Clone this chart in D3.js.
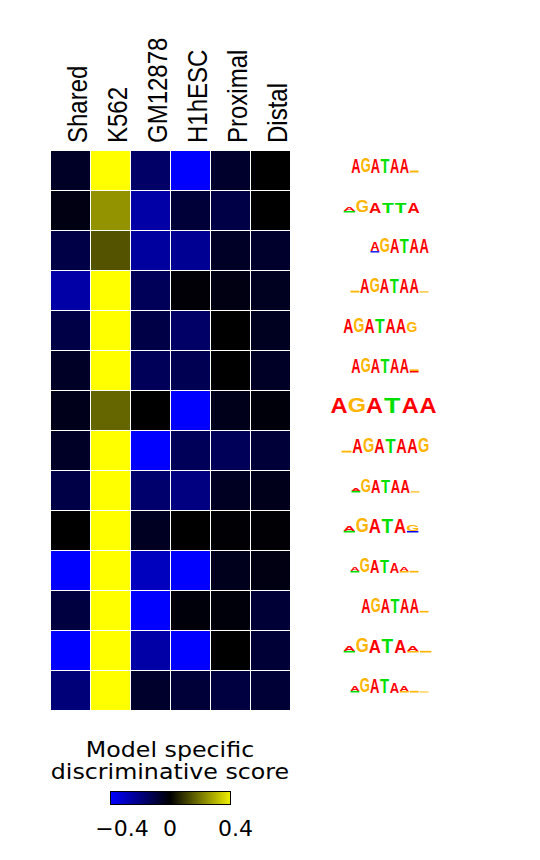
<!DOCTYPE html>
<html>
<head>
<meta charset="utf-8">
<script src="https://cdn.jsdelivr.net/npm/d3@7"></script>
<style>
  html, body { margin: 0; padding: 0; background: #fff; }
  svg { display: block; }
</style>
</head>
<body>
<svg id="chart" width="540" height="860"></svg>
<script>
// ---------------- DATA ----------------
const models = ["Shared", "K562", "GM12878", "H1hESC", "Proximal", "Distal"];
const motifs = ["m1","m2","m3","m4","m5","m6","m7","m8","m9","m10","m11","m12","m13","m14"];
// discriminative score per motif (row) for each model (column)
const scores = [
  [-0.06,  0.45, -0.16, -0.40, -0.07,  0.00],
  [-0.03,  0.23, -0.26, -0.09, -0.11,  0.00],
  [-0.11,  0.13, -0.25, -0.23, -0.06, -0.07],
  [-0.26,  0.45, -0.14, -0.01, -0.03, -0.05],
  [-0.11,  0.45, -0.11, -0.16,  0.00, -0.05],
  [-0.06,  0.45, -0.14, -0.13,  0.00, -0.06],
  [-0.04,  0.16,  0.00, -0.40, -0.04, -0.015],
  [-0.06,  0.45, -0.40, -0.14, -0.14, -0.09],
  [-0.11,  0.45, -0.17, -0.20, -0.055,-0.04],
  [ 0.00,  0.45, -0.055, 0.00, -0.008,-0.008],
  [-0.40,  0.45, -0.30, -0.40, -0.045,-0.03],
  [-0.10,  0.45, -0.40, -0.015,-0.015,-0.085],
  [-0.40,  0.45, -0.26, -0.40,  0.00, -0.085],
  [-0.19,  0.45, -0.07, -0.09, -0.10, -0.085]
];
// sequence logos: positions separated by spaces, stacked letters (bottom→top) by commas, "letter:bits"
const logoSeqs = [
  "A:1.87 G:1.87 A:1.87 T:1.87 A:1.87 A:1.87 G:0.26",
  "T:0.2,A:0.53 G:1.64 A:1.33 T:1.33 T:1.33 A:1.33",
  "C:0.18,A:1.2 G:1.87 A:1.87 T:1.87 A:1.87 A:1.87",
  "G:0.24 A:1.87 G:1.87 A:1.87 T:1.87 A:1.87 A:1.87 G:0.16",
  "A:1.87 G:1.87 A:1.87 T:1.87 A:1.87 A:1.87 G:1.33",
  "A:1.87 G:1.87 A:1.87 T:1.87 A:1.87 A:1.87 A:0.2,G:0.22",
  "A:2 G:2 A:2 T:2 A:2 A:2",
  "G:0.24 A:1.87 G:1.87 A:1.87 T:1.87 A:1.87 A:1.87 G:1.87",
  "T:0.26,A:0.4 G:1.73 A:1.67 T:1.67 A:1.67 A:1.67 G:0.16",
  "T:0.24,A:0.67 G:1.87 A:1.87 T:1.87 A:1.87 C:0.22,G:0.8",
  "T:0.22,A:0.57 G:1.87 A:1.67 T:1.67 A:1.4 G:0.2,A:0.57 G:0.22",
  "A:1.93 G:1.93 A:1.93 T:1.93 A:1.93 A:1.93 G:0.22",
  "T:0.22,A:0.67 G:2 A:1.73 T:1.8 A:1.73 G:0.2,A:0.67 G:0.22",
  "T:0.22,A:0.67 G:2 A:1.87 T:1.87 A:1.33 G:0.2,A:0.67 G:0.22 G:0.14"
];
const legendTitle = ["Model specific", "discriminative score"];
const legendTicks = [-0.4, 0, 0.4];

// ---------------- LAYOUT ----------------
const logoX0 = [351,343,370,350,343,351,330,341,351,343,350,361,343,350];
const logoX1 = [419,420,429,429,417,419,437,429,420,419,419,429,432,429];
const letterColor = { A: "#ff0000", G: "#ffb400", T: "#00e000", C: "#0000ee" };
const logoFont = "bold 100px 'Liberation Sans', Arial, sans-serif";

const svg = d3.select("#chart");

const x = d3.scaleBand().domain(models).range([51, 291]);
const y = d3.scaleBand().domain(motifs).range([151, 711]);
const color = d3.scaleLinear().domain([-0.4, 0, 0.4])
  .range(["#0000ff", "#000000", "#ffff00"]).clamp(true);

// cells
const cells = [];
scores.forEach((row, i) => row.forEach((v, j) => cells.push({ r: motifs[i], c: models[j], v })));
svg.append("g").selectAll("rect").data(cells).join("rect")
  .attr("x", d => x(d.c))
  .attr("y", d => y(d.r))
  .attr("width", x.bandwidth() - 1)
  .attr("height", y.bandwidth() - 1)
  .attr("fill", d => color(d.v));

// column labels
svg.append("g").selectAll("text").data(models).join("text")
  .attr("transform", d => `translate(${x(d) + x.bandwidth() / 2 + 16},143) scale(1.16,1) rotate(-90)`)
  .attr("font-family", "'Liberation Sans', Arial, sans-serif")
  .attr("font-size", 24)
  .attr("fill", "#000")
  .text(d => d);

// glyph metrics (tight ink boxes) via canvas
const ctx = document.createElement("canvas").getContext("2d");
ctx.font = logoFont;
const glyph = {};
["A", "C", "G", "T"].forEach(l => {
  const m = ctx.measureText(l);
  glyph[l] = {
    left: m.actualBoundingBoxLeft, right: m.actualBoundingBoxRight,
    asc: m.actualBoundingBoxAscent, desc: m.actualBoundingBoxDescent
  };
});

// sequence logos
const bitsY = d3.scaleLinear().domain([0, 2]).range([0, 15]);
const logoG = svg.append("g");
logoSeqs.forEach((seq, i) => {
  const positions = seq.split(" ").map(p => p.split(",").map(s => {
    const [l, b] = s.split(":"); return { l, b: +b };
  }));
  const px = d3.scaleLinear().domain([0, positions.length]).range([logoX0[i], logoX1[i]]);
  const base = y(motifs[i]) + y.bandwidth() / 2 + 1.5;
  positions.forEach((stack, k) => {
    let yb = base;
    const step = px(k + 1) - px(k);
    const w = step * 0.9;
    const xl = px(k) + (step - w) / 2;
    stack.forEach(({ l, b }) => {
      const h = bitsY(b);
      if (h < 2.6) {
        // a letter squashed to a sliver is drawn as a flat bar in its colour
        logoG.append("rect")
          .attr("x", xl).attr("y", yb - h)
          .attr("width", w).attr("height", h)
          .attr("fill", letterColor[l])
          .attr("fill-opacity", Math.min(1, 0.35 + h / 2));
      } else {
        const g = glyph[l];
        const gw = g.left + g.right, gh = g.asc + g.desc;
        const sx = w / gw, sy = h / gh;
        logoG.append("text")
          .attr("font-family", "'Liberation Sans', Arial, sans-serif")
          .attr("font-weight", "bold")
          .attr("font-size", 100)
          .attr("fill", letterColor[l])
          .attr("transform", `translate(${xl + g.left * sx},${yb - g.desc * sy}) scale(${sx},${sy})`)
          .text(l);
      }
      yb -= h;
    });
  });
});

// legend
const lg = svg.append("g");
lg.selectAll("text.title").data(legendTitle).join("text")
  .attr("class", "title")
  .attr("transform", (d, i) => `translate(170,${757 + i * 22}) scale(1.13,1)`)
  .attr("text-anchor", "middle")
  .attr("font-family", "'DejaVu Sans', Verdana, sans-serif")
  .attr("font-size", 21)
  .attr("fill", "#000")
  .text(d => d);

const lx = d3.scaleLinear().domain([-0.5, 0.5]).range([110, 230]);
const grad = svg.append("defs").append("linearGradient").attr("id", "cbar")
  .attr("x1", "0%").attr("x2", "100%").attr("y1", "0%").attr("y2", "0%");
const gradColor = d3.scaleLinear().domain([-0.5, 0, 0.5]).range(["#0000ff", "#000000", "#f0f000"]);
d3.range(-0.5, 0.501, 0.1).forEach(v => {
  grad.append("stop").attr("offset", `${(v + 0.5) * 100}%`).attr("stop-color", gradColor(v));
});
lg.append("rect")
  .attr("x", lx(-0.5) + 0.5).attr("y", 791.5)
  .attr("width", lx(0.5) - lx(-0.5)).attr("height", 13)
  .attr("fill", "url(#cbar)")
  .attr("stroke", "#000").attr("stroke-width", 1);

lg.selectAll("text.tick").data(legendTicks).join("text")
  .attr("class", "tick")
  .attr("x", d => lx(d))
  .attr("y", 836)
  .attr("text-anchor", d => d > 0 ? "start" : "middle")
  .attr("font-family", "'DejaVu Sans', Verdana, sans-serif")
  .attr("font-size", 22)
  .attr("fill", "#000")
  .text(d => d3.format(".1f")(d).replace("0.0", "0").replace("-", "\u2212"));
</script>
</body>
</html>
